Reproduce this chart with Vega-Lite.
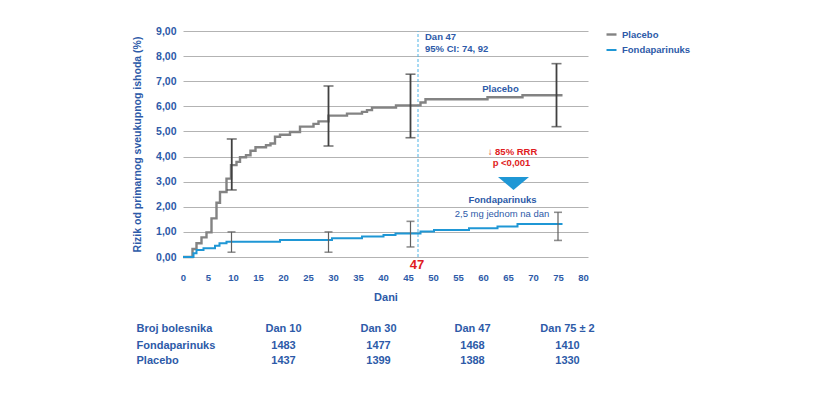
{
  "$schema": "https://vega.github.io/schema/vega-lite/v6.json",
  "width": 405,
  "height": 226,
  "autosize": {"type": "none"},
  "padding": {"left": 183, "top": 31, "right": 233, "bottom": 140},
  "background": "white",
  "config": {
    "font": "Liberation Sans",
    "view": {"stroke": null},
    "axisX": {"grid": false, "domain": false, "ticks": false, "labelPadding": 15, "labelFontSize": 9.5, "labelFontWeight": "bold", "labelColor": "#2D5AA8", "labelFlush": false, "labelOverlap": false, "titleFontSize": 11, "titleFontWeight": "bold", "titleColor": "#2D5AA8", "titlePadding": 10},
    "axisY": {"grid": true, "gridColor": "#b3b3b3", "gridWidth": 1.2, "domain": false, "ticks": false, "labelPadding": 7, "labelFontSize": 10.5, "labelFontWeight": "bold", "labelColor": "#2D5AA8", "labelFlush": false, "labelOverlap": false, "titleFontSize": 10.5, "titleFontWeight": "bold", "titleColor": "#2D5AA8", "titlePadding": 13}
  },
  "datasets": {
    "curves": [
      {"series": "Placebo", "day": 0, "value": 0},
      {"series": "Placebo", "day": 1.9, "value": 0.32},
      {"series": "Placebo", "day": 2.7, "value": 0.55},
      {"series": "Placebo", "day": 3.7, "value": 0.78},
      {"series": "Placebo", "day": 4.7, "value": 0.98},
      {"series": "Placebo", "day": 5.7, "value": 1.54},
      {"series": "Placebo", "day": 6.7, "value": 2.16},
      {"series": "Placebo", "day": 7.4, "value": 2.59},
      {"series": "Placebo", "day": 8.7, "value": 3.12},
      {"series": "Placebo", "day": 9.6, "value": 3.66},
      {"series": "Placebo", "day": 10.7, "value": 3.79},
      {"series": "Placebo", "day": 11.4, "value": 3.97},
      {"series": "Placebo", "day": 12.6, "value": 4.05},
      {"series": "Placebo", "day": 13.5, "value": 4.23},
      {"series": "Placebo", "day": 14.5, "value": 4.37},
      {"series": "Placebo", "day": 16.6, "value": 4.45},
      {"series": "Placebo", "day": 17.5, "value": 4.52},
      {"series": "Placebo", "day": 18.4, "value": 4.79},
      {"series": "Placebo", "day": 19.4, "value": 4.87},
      {"series": "Placebo", "day": 21.4, "value": 4.98},
      {"series": "Placebo", "day": 23.4, "value": 5.19},
      {"series": "Placebo", "day": 26.1, "value": 5.3},
      {"series": "Placebo", "day": 27.1, "value": 5.4},
      {"series": "Placebo", "day": 29.1, "value": 5.63},
      {"series": "Placebo", "day": 32.8, "value": 5.71},
      {"series": "Placebo", "day": 35.8, "value": 5.78},
      {"series": "Placebo", "day": 36.8, "value": 5.85},
      {"series": "Placebo", "day": 37.8, "value": 5.95},
      {"series": "Placebo", "day": 42.6, "value": 6.04},
      {"series": "Placebo", "day": 47.5, "value": 6.15},
      {"series": "Placebo", "day": 48.5, "value": 6.28},
      {"series": "Placebo", "day": 60.9, "value": 6.36},
      {"series": "Placebo", "day": 67.9, "value": 6.44},
      {"series": "Placebo", "day": 75.9, "value": 6.44},
      {"series": "Fondaparinuks", "day": 0, "value": 0},
      {"series": "Fondaparinuks", "day": 2.1, "value": 0.15},
      {"series": "Fondaparinuks", "day": 2.7, "value": 0.28},
      {"series": "Fondaparinuks", "day": 4.1, "value": 0.35},
      {"series": "Fondaparinuks", "day": 6.4, "value": 0.45},
      {"series": "Fondaparinuks", "day": 7.3, "value": 0.55},
      {"series": "Fondaparinuks", "day": 8.7, "value": 0.61},
      {"series": "Fondaparinuks", "day": 19.4, "value": 0.68},
      {"series": "Fondaparinuks", "day": 29.8, "value": 0.75},
      {"series": "Fondaparinuks", "day": 35.8, "value": 0.82},
      {"series": "Fondaparinuks", "day": 40.1, "value": 0.88},
      {"series": "Fondaparinuks", "day": 42.5, "value": 0.94},
      {"series": "Fondaparinuks", "day": 47.5, "value": 1.02},
      {"series": "Fondaparinuks", "day": 50.2, "value": 1.08},
      {"series": "Fondaparinuks", "day": 57.2, "value": 1.14},
      {"series": "Fondaparinuks", "day": 62.9, "value": 1.21},
      {"series": "Fondaparinuks", "day": 66.9, "value": 1.31},
      {"series": "Fondaparinuks", "day": 75.9, "value": 1.31}
    ],
    "ci": [
      {"series": "Placebo", "day": 9.75, "lo": 2.67, "hi": 4.7},
      {"series": "Placebo", "day": 29.1, "lo": 4.42, "hi": 6.81},
      {"series": "Placebo", "day": 45.5, "lo": 4.75, "hi": 7.28},
      {"series": "Placebo", "day": 74.7, "lo": 5.19, "hi": 7.7},
      {"series": "Fondaparinuks", "day": 9.7, "lo": 0.19, "hi": 1.0},
      {"series": "Fondaparinuks", "day": 29.1, "lo": 0.19, "hi": 1.0},
      {"series": "Fondaparinuks", "day": 45.5, "lo": 0.4, "hi": 1.42},
      {"series": "Fondaparinuks", "day": 75.0, "lo": 0.66, "hi": 1.78}
    ],
    "marker": [{"day": 47, "lo": 0, "hi": 9}],
    "arrow": [{"day": 66.1, "value": 2.93}],
    "notesBoldLeft": [
      {"day": 48.4, "value": 8.75, "text": "Dan 47"},
      {"day": 48.4, "value": 8.27, "text": "95% CI: 74, 92"}
    ],
    "notesBoldCenter": [
      {"day": 63.5, "value": 6.68, "text": "Placebo"},
      {"day": 63.9, "value": 2.26, "text": "Fondaparinuks"}
    ],
    "notesRegular": [
      {"day": 63.8, "value": 1.72, "text": "2,5 mg jednom na dan"}
    ],
    "notesRed": [
      {"day": 65.9, "value": 4.19, "text": "↓ 85% RRR"},
      {"day": 65.7, "value": 3.73, "text": "p <0,001"}
    ],
    "mark47": [{"day": 46.8, "value": -0.31, "text": "47"}],
    "tableLeft": [
      {"day": -9.3, "value": -2.88, "text": "Broj bolesnika"},
      {"day": -9.3, "value": -3.53, "text": "Fondaparinuks"},
      {"day": -9.3, "value": -4.14, "text": "Placebo"}
    ],
    "tableCenter": [
      {"day": 20.1, "value": -2.88, "text": "Dan 10"},
      {"day": 39.1, "value": -2.88, "text": "Dan 30"},
      {"day": 57.9, "value": -2.88, "text": "Dan 47"},
      {"day": 76.9, "value": -2.88, "text": "Dan 75 ± 2"},
      {"day": 20.1, "value": -3.53, "text": "1483"},
      {"day": 39.1, "value": -3.53, "text": "1477"},
      {"day": 57.9, "value": -3.53, "text": "1468"},
      {"day": 76.9, "value": -3.53, "text": "1410"},
      {"day": 20.1, "value": -4.14, "text": "1437"},
      {"day": 39.1, "value": -4.14, "text": "1399"},
      {"day": 57.9, "value": -4.14, "text": "1388"},
      {"day": 76.9, "value": -4.14, "text": "1330"}
    ]
  },
  "encoding": {
    "x": {"field": "day", "type": "quantitative", "scale": {"domain": [0, 81], "nice": false, "zero": false},
      "axis": {"values": [0, 5, 10, 15, 20, 25, 30, 35, 40, 45, 50, 55, 60, 65, 70, 75, 80], "title": "Dani"}},
    "y": {"field": "value", "type": "quantitative", "scale": {"domain": [0, 9], "nice": false},
      "axis": {"values": [0, 1, 2, 3, 4, 5, 6, 7, 8, 9], "labelExpr": "replace(format(datum.value, '.2f'), '.', ',')", "title": "Rizik od primarnog sveukupnog ishoda (%)"}}
  },
  "layer": [
    {
      "data": {"name": "marker"},
      "mark": {"type": "rule", "color": "#4fb3e6", "strokeDash": [3, 2], "strokeWidth": 1},
      "encoding": {
        "y": {"field": "lo", "type": "quantitative", "scale": {"domain": [0, 9], "nice": false},
          "axis": {"values": [0, 1, 2, 3, 4, 5, 6, 7, 8, 9], "labelExpr": "replace(format(datum.value, '.2f'), '.', ',')", "title": "Rizik od primarnog sveukupnog ishoda (%)"}},
        "y2": {"field": "hi"}
      }
    },
    {
      "data": {"name": "curves"},
      "mark": {"type": "line", "interpolate": "step-after"},
      "encoding": {
        "color": {"field": "series", "type": "nominal",
          "scale": {"domain": ["Placebo", "Fondaparinuks"], "range": ["#838383", "#1f97d5"]},
          "legend": {"title": null, "orient": "none", "legendX": 422, "legendY": -3, "symbolType": "stroke", "symbolSize": 100, "symbolStrokeWidth": 2.5, "labelFontSize": 9.5, "labelFontWeight": "bold", "labelColor": "#2D5AA8", "labelOffset": 4, "rowPadding": 4}},
        "strokeWidth": {"field": "series", "type": "nominal", "scale": {"domain": ["Placebo", "Fondaparinuks"], "range": [2.4, 2]}, "legend": null}
      }
    },
    {
      "data": {"name": "ci"},
      "mark": {"type": "rule"},
      "encoding": {
        "y": {"field": "lo", "type": "quantitative", "scale": {"domain": [0, 9], "nice": false},
          "axis": {"values": [0, 1, 2, 3, 4, 5, 6, 7, 8, 9], "labelExpr": "replace(format(datum.value, '.2f'), '.', ',')", "title": "Rizik od primarnog sveukupnog ishoda (%)"}},
        "y2": {"field": "hi"},
        "color": {"condition": {"test": "datum.series === 'Placebo'", "value": "#404040"}, "value": "#606060"},
        "strokeWidth": {"condition": {"test": "datum.series === 'Placebo'", "value": 1.8}, "value": 1.2}
      }
    },
    {
      "data": {"name": "ci"},
      "mark": {"type": "tick", "orient": "horizontal", "thickness": 1.6},
      "encoding": {
        "y": {"field": "lo", "type": "quantitative", "scale": {"domain": [0, 9], "nice": false},
          "axis": {"values": [0, 1, 2, 3, 4, 5, 6, 7, 8, 9], "labelExpr": "replace(format(datum.value, '.2f'), '.', ',')", "title": "Rizik od primarnog sveukupnog ishoda (%)"}},
        "color": {"condition": {"test": "datum.series === 'Placebo'", "value": "#404040"}, "value": "#606060"},
        "size": {"condition": {"test": "datum.series === 'Placebo'", "value": 10}, "value": 8}
      }
    },
    {
      "data": {"name": "ci"},
      "mark": {"type": "tick", "orient": "horizontal", "thickness": 1.6},
      "encoding": {
        "y": {"field": "hi", "type": "quantitative", "scale": {"domain": [0, 9], "nice": false},
          "axis": {"values": [0, 1, 2, 3, 4, 5, 6, 7, 8, 9], "labelExpr": "replace(format(datum.value, '.2f'), '.', ',')", "title": "Rizik od primarnog sveukupnog ishoda (%)"}},
        "color": {"condition": {"test": "datum.series === 'Placebo'", "value": "#404040"}, "value": "#606060"},
        "size": {"condition": {"test": "datum.series === 'Placebo'", "value": 10}, "value": 8}
      }
    },
    {
      "data": {"name": "arrow"},
      "mark": {"type": "point", "shape": "M-1,-0.42L1,-0.42L0,0.42Z", "filled": true, "opacity": 1, "color": "#1f97d5", "size": 961, "strokeWidth": 0}
    },
    {
      "data": {"name": "notesBoldLeft"},
      "mark": {"type": "text", "align": "left", "baseline": "middle", "fontSize": 9.5, "fontWeight": "bold", "color": "#2D5AA8"},
      "encoding": {"text": {"field": "text"}}
    },
    {
      "data": {"name": "notesBoldCenter"},
      "mark": {"type": "text", "align": "center", "baseline": "middle", "fontSize": 9.5, "fontWeight": "bold", "color": "#2D5AA8"},
      "encoding": {"text": {"field": "text"}}
    },
    {
      "data": {"name": "notesRegular"},
      "mark": {"type": "text", "align": "center", "baseline": "middle", "fontSize": 9.5, "color": "#2D5AA8"},
      "encoding": {"text": {"field": "text"}}
    },
    {
      "data": {"name": "notesRed"},
      "mark": {"type": "text", "align": "center", "baseline": "middle", "fontSize": 9.5, "fontWeight": "bold", "color": "#E01B22"},
      "encoding": {"text": {"field": "text"}}
    },
    {
      "data": {"name": "mark47"},
      "mark": {"type": "text", "align": "center", "baseline": "middle", "fontSize": 13, "fontWeight": "bold", "color": "#E01B22"},
      "encoding": {"text": {"field": "text"}}
    },
    {
      "data": {"name": "tableLeft"},
      "mark": {"type": "text", "align": "left", "baseline": "middle", "fontSize": 11, "fontWeight": "bold", "color": "#2D5AA8"},
      "encoding": {"text": {"field": "text"}}
    },
    {
      "data": {"name": "tableCenter"},
      "mark": {"type": "text", "align": "center", "baseline": "middle", "fontSize": 11, "fontWeight": "bold", "color": "#2D5AA8"},
      "encoding": {"text": {"field": "text"}}
    }
  ]
}
